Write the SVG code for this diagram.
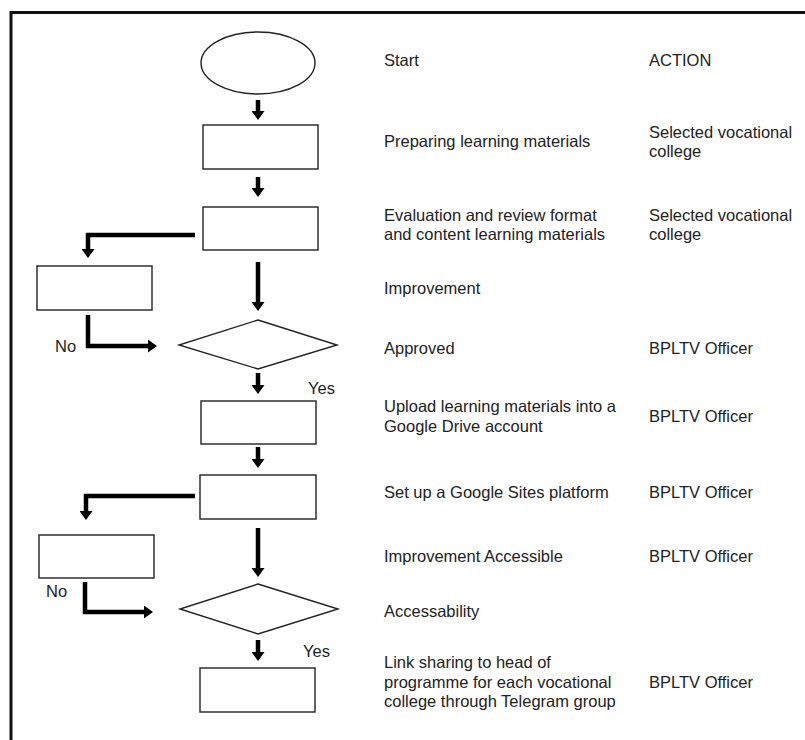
<svg xmlns="http://www.w3.org/2000/svg" width="805" height="740" viewBox="0 0 805 740">
  <defs>
    <style>
      .shape { fill: #fff; stroke: #222; stroke-width: 1.4; }
      .flow { fill: none; stroke: #000; stroke-width: 4.5; stroke-linejoin: miter; }
      .label { font-family: "Liberation Sans", Arial, sans-serif; font-size: 16.5px; fill: #222; }
      .frame { stroke: #111; stroke-width: 3; fill: none; }
    </style>
    <marker id="head" markerUnits="userSpaceOnUse" markerWidth="9" markerHeight="13" refX="1" refY="6.5" orient="auto" viewBox="0 0 9 13">
      <path d="M0,0 L9,6.5 L0,13 Z" fill="#000"/>
    </marker>
  </defs>
  <rect width="805" height="740" fill="#fff"/>

  <!-- page frame -->
  <path class="frame" d="M11,740 L11,12.5 L805,12.5"/>

  <!-- flow nodes -->
  <g id="start"><ellipse class="shape" cx="258" cy="63" rx="57" ry="31"/></g>
  <g id="prepare"><rect class="shape" x="203" y="125" width="115" height="44"/></g>
  <g id="evaluate"><rect class="shape" x="203" y="207" width="115" height="43"/></g>
  <g id="improve"><rect class="shape" x="37" y="266" width="115" height="44"/></g>
  <g id="approved"><polygon class="shape" points="258,320 337,345 258,369 179,345"/></g>
  <g id="upload"><rect class="shape" x="201" y="401" width="115" height="43"/></g>
  <g id="sites"><rect class="shape" x="200" y="475" width="116" height="44"/></g>
  <g id="improve-access"><rect class="shape" x="39" y="535" width="115" height="43"/></g>
  <g id="accessability"><polygon class="shape" points="258,584 338,609 258,634 180,609"/></g>
  <g id="share"><rect class="shape" x="200" y="668" width="115" height="44"/></g>

  <!-- connectors -->
  <g id="connectors">
    <path class="flow" d="M258,100 L258,112" marker-end="url(#head)"/>
    <path class="flow" d="M258,177 L258,189" marker-end="url(#head)"/>
    <path class="flow" d="M195,235 L88,235 L88,250" marker-end="url(#head)"/>
    <path class="flow" d="M258,262 L258,303" marker-end="url(#head)"/>
    <path class="flow" d="M88,315 L88,346 L149,346" marker-end="url(#head)"/>
    <path class="flow" d="M258,373 L258,386" marker-end="url(#head)"/>
    <path class="flow" d="M258,447 L258,460" marker-end="url(#head)"/>
    <path class="flow" d="M195,496 L86,496 L86,512" marker-end="url(#head)"/>
    <path class="flow" d="M258,528 L258,569" marker-end="url(#head)"/>
    <path class="flow" d="M85,582 L85,612 L145,612" marker-end="url(#head)"/>
    <path class="flow" d="M258,640 L258,653" marker-end="url(#head)"/>
  </g>

  <!-- branch labels -->
  <g id="branch-labels" class="label">
    <text x="55" y="352">No</text>
    <text x="308" y="394">Yes</text>
    <text x="46" y="597">No</text>
    <text x="303" y="657">Yes</text>
  </g>

  <!-- step descriptions -->
  <g id="steps" class="label">
    <text x="384" y="66">Start</text>
    <text x="384" y="147">Preparing learning materials</text>
    <text x="384" y="221">Evaluation and review format</text>
    <text x="384" y="240">and content learning materials</text>
    <text x="384" y="294">Improvement</text>
    <text x="384" y="354">Approved</text>
    <text x="384" y="412">Upload learning materials into a</text>
    <text x="384" y="432">Google Drive account</text>
    <text x="384" y="498">Set up a Google Sites platform</text>
    <text x="384" y="562">Improvement Accessible</text>
    <text x="384" y="617">Accessability</text>
    <text x="384" y="668">Link sharing to head of</text>
    <text x="384" y="688">programme for each vocational</text>
    <text x="384" y="707">college through Telegram group</text>
  </g>

  <!-- responsible party -->
  <g id="actions" class="label">
    <text x="649" y="66">ACTION</text>
    <text x="649" y="138">Selected vocational</text>
    <text x="649" y="157">college</text>
    <text x="649" y="221">Selected vocational</text>
    <text x="649" y="240">college</text>
    <text x="649" y="354">BPLTV Officer</text>
    <text x="649" y="422">BPLTV Officer</text>
    <text x="649" y="498">BPLTV Officer</text>
    <text x="649" y="562">BPLTV Officer</text>
    <text x="649" y="688">BPLTV Officer</text>
  </g>
</svg>
